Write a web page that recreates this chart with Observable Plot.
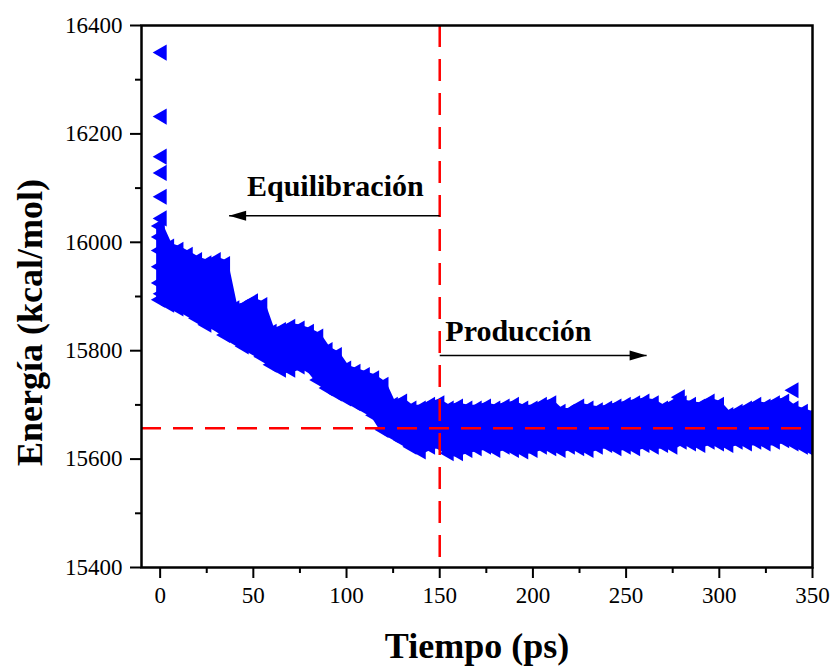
<!DOCTYPE html>
<html>
<head>
<meta charset="utf-8">
<script src="https://cdn.jsdelivr.net/npm/d3@7"></script>
<script src="https://cdn.jsdelivr.net/npm/@observablehq/plot@0.6"></script>
<style>
  html, body { margin: 0; padding: 0; background: white; }
  svg text { font-family: 'Liberation Serif', 'Times New Roman', serif !important; }
</style>
</head>
<body>
<div id="chart"></div>
<script>
// ---- data ----
const times = [0,5,10,15,20,25,30,35,40,45,50,55,60,65,70,75,80,85,90,95,100,105,110,115,120,125,130,135,140,145,
  150,155,160,165,170,175,180,185,190,195,200,205,210,215,220,225,230,235,240,245,250,255,260,265,270,275,280,285,290,295,300,305,310,315,320,325,330,335,340,345,350];
// upper edge of the scatter band (kcal/mol)
const upperEnergy = [16030,15992,15986,15977,15967,15961,15967,15960,15878,15881,15891,15884,15835,15838,15844,15841,15835,15826,15801,15792,15767,15761,15755,15749,15737,15700,15706,15693,15693,15700,
  15703,15693,15697,15693,15693,15697,15693,15697,15700,15693,15693,15700,15703,15687,15687,15697,15693,15690,15693,15697,15700,15703,15706,15703,15693,15700,15703,15700,15697,15706,15700,15681,15687,15693,15700,15697,15703,15706,15693,15687,15681];
// lower edge of the scatter band (kcal/mol)
const lowerEnergy = [15894,15885,15878,15872,15860,15848,15845,15829,15820,15808,15801,15789,15774,15765,15765,15771,15768,15746,15731,15721,15712,15703,15694,15681,15654,15645,15635,15623,15614,15623,
  15626,15611,15611,15617,15620,15623,15617,15623,15617,15614,15617,15623,15620,15617,15623,15620,15617,15623,15626,15620,15623,15620,15626,15623,15626,15623,15632,15629,15626,15632,15629,15626,15632,15629,15632,15629,15632,15635,15629,15623,15617];
// isolated points and the left column of the band
const outlierTimes = [1,1,1,1,1,1,279,340,0,0,0,0,1];
const outlierEnergy = [16350,16232,16158,16128,16084,16044,15714,15727,16010,15985,15955,15925,15905];

const xTicks = [0,50,100,150,200,250,300,350];
const xMinor = [25,75,125,175,225,275,325];
const yTicks = [15400,15600,15800,16000,16200,16400];
const yMinor = [15500,15700,15900,16100,16300];

const splitTime = [150];
const meanEnergy = [15657];

const leftLabel = "Equilibración";
const rightLabel = "Producción";
const leftLabelPos = [94, 16086];   // [time, energy]
const rightLabelPos = [153, 15818];
const arrowFrom = [150, 150];
const arrowTo = [37, 261];
const arrowEnergy = [16049, 15791];

const xTitle = "Tiempo (ps)";
const yTitle = "Energía (kcal/mol)";

// ---- build tables ----
const band = times.map((t, i) => ({t, lo: lowerEnergy[i], hi: upperEnergy[i]}));
const pts = times.flatMap((t, i) => [{t, v: upperEnergy[i]}, {t, v: lowerEnergy[i]}])
  .concat(outlierTimes.map((t, i) => ({t, v: outlierEnergy[i]})));
const arrows = arrowFrom.map((a, i) => ({x1: a, x2: arrowTo[i], y: arrowEnergy[i], rot: arrowTo[i] < a ? 180 : 0}));

const headSymbol = {
  draw(ctx) { ctx.moveTo(0, 0); ctx.lineTo(-17, -5); ctx.lineTo(-17, 5); ctx.closePath(); }
};

const blue = "#0000ff";
const serif = "'Liberation Serif', 'Times New Roman', serif";
const fmt = d => String(d);

const chart = Plot.plot({
  width: 836,
  height: 666,
  marginLeft: 141,
  marginRight: 24,
  marginTop: 25,
  marginBottom: 99,
  x: {domain: [-10, 350]},
  y: {domain: [15400, 16400]},
  style: {fontFamily: serif, fontSize: "23px", background: "white", color: "black"},
  marks: [
    Plot.areaY(band, {x: "t", y1: "lo", y2: "hi", fill: blue, stroke: blue, strokeWidth: 7, strokeLinejoin: "round", clip: true}),
    Plot.dot(pts, {x: "t", y: "v", symbol: "triangle", rotate: -90, r: 6, fill: blue, clip: true}),
    Plot.ruleY(meanEnergy, {stroke: "#ff0000", strokeWidth: 2.5, strokeDasharray: "20,12"}),
    Plot.ruleX(splitTime, {stroke: "#ff0000", strokeWidth: 2.5, strokeDasharray: "22,12"}),
    Plot.link(arrows, {x1: "x1", x2: "x2", y1: "y", y2: "y", stroke: "black", strokeWidth: 1.5}),
    Plot.dot(arrows, {x: "x2", y: "y", symbol: headSymbol, rotate: "rot", r: 5, fill: "black"}),
    Plot.text([leftLabel], {x: leftLabelPos[0], y: leftLabelPos[1], text: d => d, textAnchor: "middle", lineAnchor: "bottom", fontFamily: serif, fontSize: 30, fontWeight: "bold", fill: "black"}),
    Plot.text([rightLabel], {x: rightLabelPos[0], y: rightLabelPos[1], text: d => d, textAnchor: "start", lineAnchor: "bottom", fontFamily: serif, fontSize: 30, fontWeight: "bold", fill: "black"}),
    Plot.frame({stroke: "black", strokeWidth: 2.5}),
    Plot.axisX(xTicks, {tickSize: 11, tickPadding: 8, strokeWidth: 2, label: null, tickFormat: fmt, fontFamily: serif, fontSize: 23}),
    Plot.axisX(xMinor, {tickSize: 6, text: null, strokeWidth: 2, label: null}),
    Plot.axisY(yTicks, {tickSize: 11, tickPadding: 8, strokeWidth: 2, label: null, tickFormat: fmt, fontFamily: serif, fontSize: 23}),
    Plot.axisY(yMinor, {tickSize: 6, text: null, strokeWidth: 2, label: null}),
    Plot.text([xTitle], {text: d => d, frameAnchor: "bottom", dy: 90, lineAnchor: "bottom", fontFamily: serif, fontSize: 36, fontWeight: "bold", fill: "black"}),
    Plot.text([yTitle], {text: d => d, frameAnchor: "left", rotate: -90, dx: -111, dy: 26, textAnchor: "middle", fontFamily: serif, fontSize: 36, fontWeight: "bold", fill: "black"})
  ]
});
d3.select(chart).selectAll("text").style("font-family", serif);
document.getElementById("chart").appendChild(chart);
</script>
</body>
</html>
